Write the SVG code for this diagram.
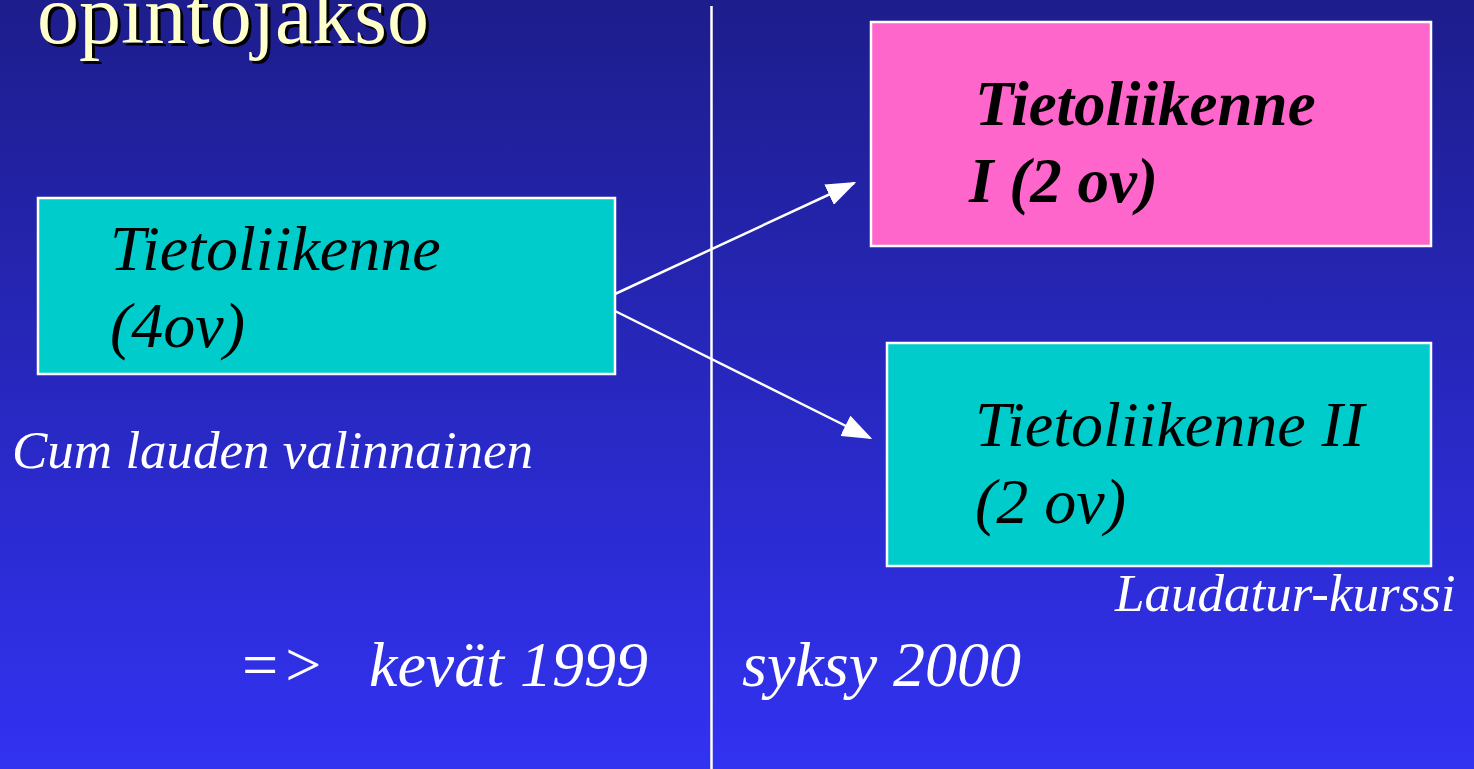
<svg xmlns="http://www.w3.org/2000/svg" width="1474" height="769" viewBox="0 0 1474 769">
<defs>
<linearGradient id="bg" x1="0" y1="0" x2="0" y2="1">
<stop offset="0" stop-color="#1d1d8c"/>
<stop offset="1" stop-color="#3232f2"/>
</linearGradient>
<marker id="arr" markerWidth="12" markerHeight="9" refX="11" refY="4.5" orient="auto" markerUnits="strokeWidth" viewBox="0 0 12 9">
<path d="M0,0 L12,4.5 L0,9 Z" fill="#ffffff"/>
</marker>
<style>
.box{stroke:#ffffff;stroke-width:2.5}
.tt{font-family:"Liberation Serif","Times New Roman",serif;font-size:84px}
.bt{font-family:"Liberation Serif","Times New Roman",serif;font-style:italic;font-size:64px;fill:#000000}
.bb{font-weight:bold;font-size:63px}
.wt{font-family:"Liberation Serif","Times New Roman",serif;font-style:italic;fill:#ffffff}
.conn{stroke:#ffffff;stroke-width:2.5;fill:none}
</style>
</defs>
<rect x="0" y="0" width="1474" height="769" fill="url(#bg)"/>
<g id="title">
<text class="tt" x="40" y="46" fill="#000000">opintojakso</text>
<text class="tt" x="37" y="43" fill="#ffffcc">opintojakso</text>
</g>
<g id="divider">
<line x1="711.5" y1="6" x2="711.5" y2="769" stroke="#ffffff" stroke-width="2.5"/>
</g>
<g id="connectors">
<line class="conn" x1="615" y1="294" x2="854" y2="183" marker-end="url(#arr)"/>
<line class="conn" x1="615" y1="311" x2="870" y2="438" marker-end="url(#arr)"/>
</g>
<g id="node-tl4">
<rect class="box" x="38" y="198" width="577" height="176" fill="#00cccc"/>
<text class="bt" x="110" y="270">Tietoliikenne</text>
<text class="bt" x="110" y="347">(4ov)</text>
</g>
<g id="node-tl1">
<rect class="box" x="871" y="22" width="560" height="224" fill="#ff66cc"/>
<text class="bt bb" x="975" y="125">Tietoliikenne</text>
<text class="bt bb" x="969" y="202">I (2 ov)</text>
</g>
<g id="node-tl2">
<rect class="box" x="887" y="343" width="544" height="223" fill="#00cccc"/>
<text class="bt" x="975" y="446">Tietoliikenne II</text>
<text class="bt" x="975" y="523">(2 ov)</text>
</g>
<g id="labels">
<text class="wt" x="12" y="468" font-size="53">Cum lauden valinnainen</text>
<text class="wt" x="1115" y="611" font-size="53">Laudatur-kurssi</text>
<text class="wt" x="238" y="686" font-size="64">=&gt;</text>
<text class="wt" x="369" y="686" font-size="64">kevät 1999</text>
<text class="wt" x="742" y="686" font-size="64">syksy 2000</text>
</g>
</svg>
